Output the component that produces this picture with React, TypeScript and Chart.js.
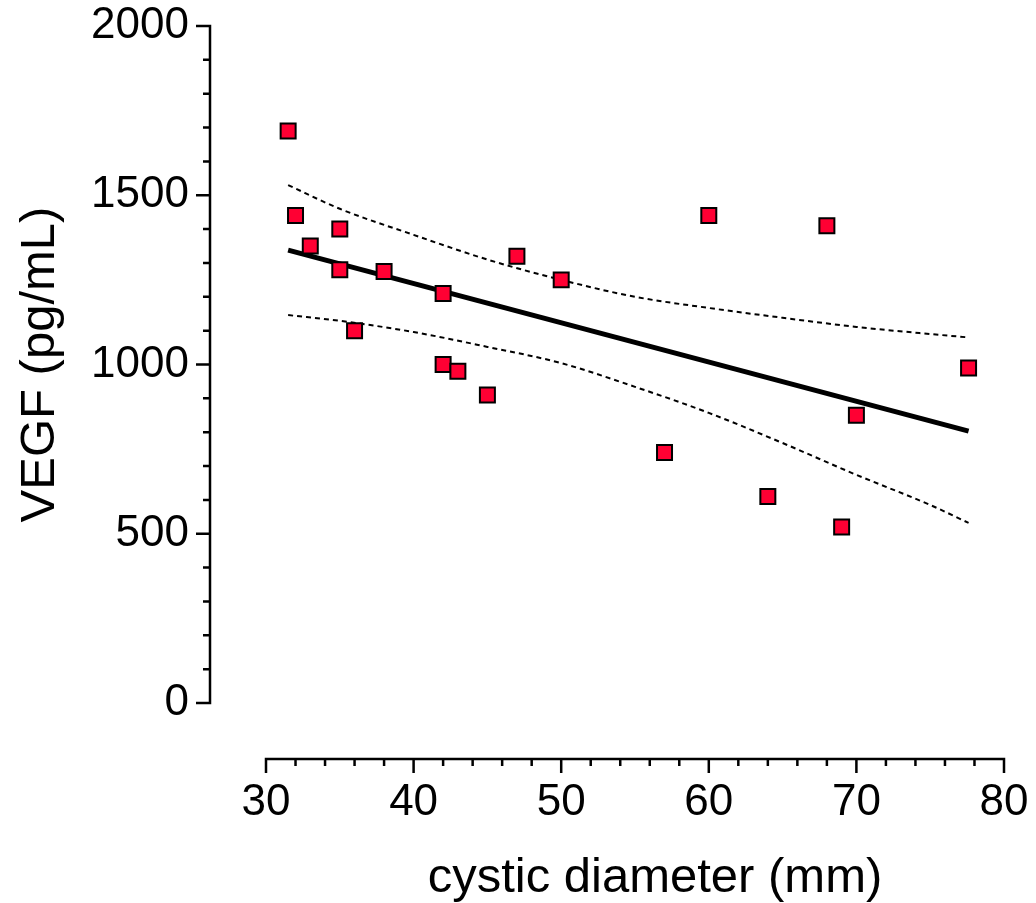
import React, { useEffect, useRef } from "react";
import { Chart, registerables } from "chart.js";

Chart.register(...registerables);

const diameterMm = [31.5, 32, 33, 35, 35, 36, 38, 42, 42, 43, 45, 47, 50, 57, 60, 64, 68, 69, 70, 77.6];
const vegfPgMl = [1690, 1440, 1350, 1400, 1280, 1100, 1275, 1210, 1000, 980, 910, 1320, 1250, 740, 1440, 610, 1410, 520, 850, 990];

const fitX = [31.5, 77.6];
const fitY = [1338, 803];

const bandX = [31.5, 35, 40, 45, 50, 55, 60, 65, 70, 75, 77.6];
const bandUpper = [1530, 1460, 1383, 1310, 1250, 1200, 1167, 1138, 1111, 1090, 1080];
const bandLower = [1146, 1129, 1096, 1052, 1004, 934, 857, 768, 674, 585, 532];

const xTicks = [30, 40, 50, 60, 70, 80];
const yTicks = [0, 500, 1000, 1500, 2000];
const xMinorStep = 2;
const yMinorStep = 100;

const xTitle = "cystic diameter (mm)";
const yTitle = "VEGF (pg/mL)";

const FONT = "'Liberation Sans', Arial, sans-serif";

const offsetAxes = {
  id: "offsetAxes",
  afterDraw(chart: any) {
    const { ctx, chartArea, scales } = chart;
    const xs = scales.x;
    const ys = scales.y;
    const gap = 56;
    const ax = chartArea.left - gap;
    const ay = chartArea.bottom + gap;
    ctx.save();
    ctx.strokeStyle = "#000";
    ctx.lineWidth = 2.5;
    ctx.lineCap = "butt";
    const y0 = ys.getPixelForValue(ys.min);
    const y1 = ys.getPixelForValue(ys.max);
    ctx.beginPath();
    ctx.moveTo(ax, y0 + 1.25);
    ctx.lineTo(ax, y1 - 1.25);
    for (let v = ys.min; v <= ys.max + 1e-9; v += yMinorStep) {
      const py = ys.getPixelForValue(v);
      const major = yTicks.includes(Math.round(v));
      ctx.moveTo(ax, py);
      ctx.lineTo(ax - (major ? 14 : 7), py);
    }
    ctx.stroke();
    const x0 = xs.getPixelForValue(xs.min);
    const x1 = xs.getPixelForValue(xs.max);
    ctx.beginPath();
    ctx.moveTo(x0 - 1.25, ay);
    ctx.lineTo(x1 + 1.25, ay);
    for (let v = xs.min; v <= xs.max + 1e-9; v += xMinorStep) {
      const px = xs.getPixelForValue(v);
      const major = xTicks.includes(Math.round(v));
      ctx.moveTo(px, ay);
      ctx.lineTo(px, ay + (major ? 14 : 7));
    }
    ctx.stroke();
    // x axis title
    ctx.fillStyle = "#000";
    ctx.font = `49px ${FONT}`;
    ctx.textAlign = "center";
    ctx.textBaseline = "alphabetic";
    ctx.fillText(xTitle, (chartArea.left + chartArea.right) / 2 + 20, ay + 133);
    ctx.restore();
  },
};

const zeroPad = (s: any) => {
  s.paddingLeft = 0;
  s.paddingRight = 0;
  s.paddingTop = 0;
  s.paddingBottom = 0;
};

export default function App() {
  const ref = useRef<HTMLCanvasElement | null>(null);
  useEffect(() => {
    if (!ref.current) return;
    const chart = new Chart(ref.current, {
      type: "scatter",
      data: {
        datasets: [
          {
            label: "data",
            data: diameterMm.map((x, i) => ({ x, y: vegfPgMl[i] })),
            pointStyle: "rect",
            pointRadius: 10.6,
            pointBackgroundColor: "#FF0033",
            pointBorderColor: "#000",
            pointBorderWidth: 2,
            showLine: false,
            order: 0,
          },
          {
            label: "fit",
            data: fitX.map((x, i) => ({ x, y: fitY[i] })),
            showLine: true,
            pointRadius: 0,
            borderColor: "#000",
            borderWidth: 5,
            order: 1,
          },
          {
            label: "upper",
            data: bandX.map((x, i) => ({ x, y: bandUpper[i] })),
            showLine: true,
            pointRadius: 0,
            borderColor: "#000",
            borderWidth: 2,
            borderDash: [5, 4],
            cubicInterpolationMode: "monotone",
            order: 2,
          },
          {
            label: "lower",
            data: bandX.map((x, i) => ({ x, y: bandLower[i] })),
            showLine: true,
            pointRadius: 0,
            borderColor: "#000",
            borderWidth: 2,
            borderDash: [5, 4],
            cubicInterpolationMode: "monotone",
            order: 3,
          },
        ],
      },
      options: {
        responsive: false,
        animation: false,
        layout: { padding: { left: 0, top: 26, right: 32, bottom: 0 } },
        plugins: { legend: { display: false }, tooltip: { enabled: false } },
        scales: {
          x: {
            type: "linear",
            min: 30,
            max: 80,
            afterFit: (s: any) => {
              s.height = 200;
              zeroPad(s);
            },
            afterBuildTicks: (s: any) => {
              s.ticks = xTicks.map((v) => ({ value: v }));
            },
            grid: { display: false, drawTicks: false },
            border: { display: false },
            ticks: {
              color: "#000",
              padding: 73,
              maxRotation: 0,
              font: { family: FONT, size: 44 },
              callback: (v: any) => String(v),
            },
            title: { display: false },
          },
          y: {
            type: "linear",
            min: 0,
            max: 2000,
            afterFit: (s: any) => {
              s.width = 266;
              zeroPad(s);
            },
            afterBuildTicks: (s: any) => {
              s.ticks = yTicks.map((v) => ({ value: v }));
            },
            grid: { display: false, drawTicks: false },
            border: { display: false },
            ticks: {
              color: "#000",
              padding: 77,
              font: { family: FONT, size: 44 },
              callback: (v: any) => String(v),
            },
            title: {
              display: true,
              text: yTitle,
              color: "#000",
              font: { family: FONT, size: 49 },
              padding: { top: 10.6, bottom: 0 },
            },
          },
        },
      },
      plugins: [offsetAxes],
    });
    return () => chart.destroy();
  }, []);
  return (
    <div style={{ position: "absolute", left: 0, top: 0, width: 1036, height: 903, background: "#fff" }}>
      <canvas ref={ref} width={1036} height={903} style={{ display: "block" }} />
    </div>
  );
}
